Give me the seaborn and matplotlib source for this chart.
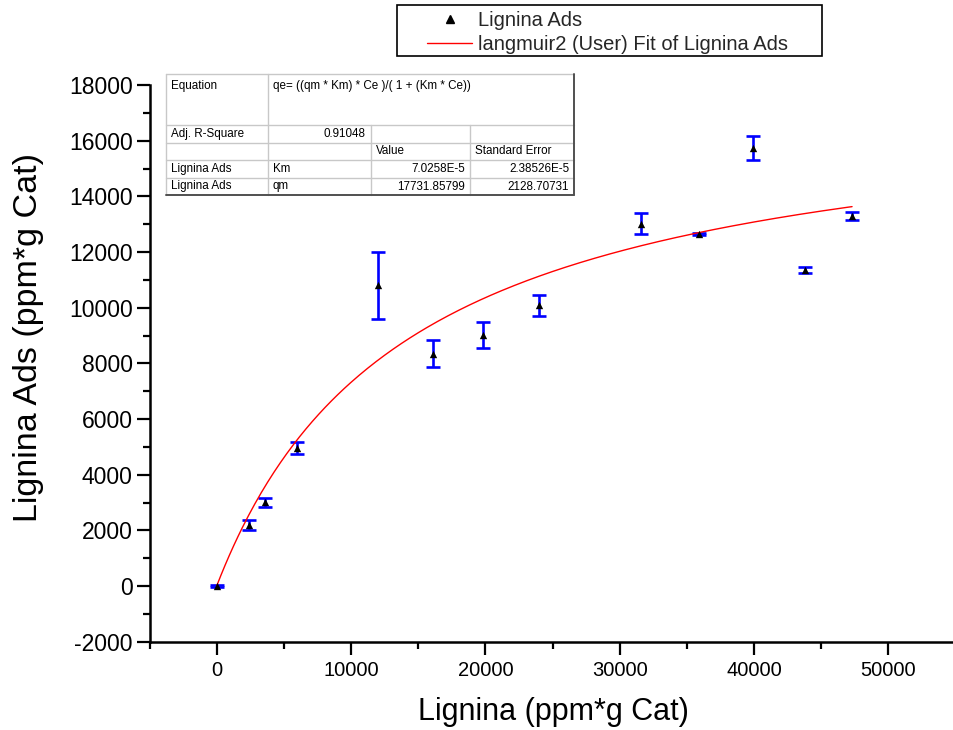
import numpy as np
import pandas as pd
import matplotlib
matplotlib.use("Agg")
import matplotlib.pyplot as plt
from matplotlib.lines import Line2D
from matplotlib.patches import Rectangle
from matplotlib.ticker import MultipleLocator
import seaborn as sns

# Adsorption data: lignina in solution vs. lignina adsorbed (ppm*g Cat)
ce = [0, 2400, 3600, 6000, 12000, 16100, 19800, 24000, 31600, 35900, 39900, 43800, 47300]
qe = [0, 2200, 3010, 4950, 10800, 8350, 9010, 10080, 13020, 12650, 15740, 11360, 13290]
qe_err = [50, 190, 160, 220, 1200, 480, 466, 382, 388, 50, 441, 107, 150]

# Langmuir fit parameters reported by the fit
qm = 17731.85799
km = 7.0258E-5
adj_r2 = "0.91048"

x_ticks = [0, 10000, 20000, 30000, 40000, 50000]
y_ticks = [-2000, 0, 2000, 4000, 6000, 8000, 10000, 12000, 14000, 16000, 18000]

table_rows = [
    ["Adj. R-Square", adj_r2, "", ""],
    ["", "", "Value", "Standard Error"],
    ["Lignina Ads", "Km", "7.0258E-5", "2.38526E-5"],
    ["Lignina Ads", "qm", "17731.85799", "2128.70731"],
]
equation = "qe= ((qm * Km) * Ce )/( 1 + (Km * Ce))"

sns.set_theme(style="ticks")
plt.rcParams["font.family"] = ["Liberation Sans", "DejaVu Sans"]
plt.rcParams["axes.unicode_minus"] = False

W, H = 954, 730
fig = plt.figure(figsize=(W / 100, H / 100), dpi=100)
ax = fig.add_axes([149.5 / W, 1 - 641.7 / H, 806 / W, 556.7 / H])

df = pd.DataFrame({"Ce": ce, "qe": qe, "err": qe_err})

# Fitted Langmuir curve evaluated with the reported parameters
ce_fit = np.linspace(0, max(ce), 300)
fit = pd.DataFrame({"Ce": ce_fit, "qe": qm * km * ce_fit / (1 + km * ce_fit)})

ax.errorbar(df["Ce"], df["qe"], yerr=df["err"], fmt="none", ecolor="#0000ff",
            elinewidth=1.9, capsize=5.2, capthick=1.9, zorder=2)
sns.lineplot(data=fit, x="Ce", y="qe", ax=ax, color="#ff0000", linewidth=1.0,
             zorder=3, legend=False)
sns.scatterplot(data=df, x="Ce", y="qe", ax=ax, marker="^", color="black", s=28,
                edgecolor="black", linewidth=0, zorder=4, legend=False)

ax.set_xlim(-5000, 55000)
ax.set_ylim(-2000, 18000)
ax.set_xticks(x_ticks)
ax.set_yticks(y_ticks)
ax.xaxis.set_minor_locator(MultipleLocator(5000))
ax.yaxis.set_minor_locator(MultipleLocator(1000))

sns.despine(ax=ax)
for s in ("left", "bottom"):
    ax.spines[s].set_linewidth(1.8)
    ax.spines[s].set_color("black")

ax.tick_params(which="major", direction="out", length=9.2, width=1.6, color="black")
ax.tick_params(which="minor", direction="out", length=5.0, width=1.6, color="black")
ax.tick_params(axis="y", labelsize=16.5, pad=3, labelcolor="black")
ax.tick_params(axis="x", labelsize=14.5, pad=5, labelcolor="black")

ax.set_xlabel("Lignina (ppm*g Cat)", fontsize=22, color="black")
ax.set_ylabel("Lignina Ads (ppm*g Cat)", fontsize=24.5, color="black")
ax.xaxis.set_label_coords((553 - 149.5) / 806, (641.7 - 712) / 556.7)
ax.xaxis.label.set_va("center")
ax.yaxis.set_label_coords((28 - 149.5) / 806, (641.7 - 337) / 556.7)
ax.yaxis.label.set_va("center")


def fx(px):
    return px / W


def fy(py):
    return 1 - py / H


# Legend above the plot, inside its own box
fig.add_artist(Rectangle((fx(397), fy(56)), fx(822) - fx(397), fy(5) - fy(56),
                         transform=fig.transFigure, facecolor="white",
                         edgecolor="black", linewidth=1.2, zorder=4))
handles = [
    Line2D([], [], marker="^", linestyle="none", color="black", markersize=5.5),
    Line2D([], [], color="#ff0000", linewidth=1.0),
]
labels = ["Lignina Ads", "langmuir2 (User) Fit of Lignina Ads"]
leg = fig.legend(handles, labels, loc="upper left",
                 bbox_to_anchor=(fx(427), fy(11)), fontsize=14.5,
                 frameon=False, handlelength=2.25, handletextpad=0.3,
                 borderpad=0, labelspacing=0.25, borderaxespad=0)
leg.set_zorder(5)

# Fit-results table drawn in figure pixel coordinates
cols = [166, 268, 371, 470, 574]
rows = [74, 125, 143, 160, 178, 195]

grid_kw = dict(color="#c8c8c8", linewidth=1.0, transform=fig.transFigure, zorder=5)
fig.add_artist(Rectangle((fx(cols[0]), fy(rows[-1])), fx(cols[-1]) - fx(cols[0]),
                         fy(rows[0]) - fy(rows[-1]), transform=fig.transFigure,
                         facecolor="white", edgecolor="none", zorder=4))
# horizontal rules
for r in rows[1:-1]:
    fig.add_artist(Line2D([fx(cols[0]), fx(cols[-1])], [fy(r), fy(r)], **grid_kw))
fig.add_artist(Line2D([fx(cols[0]), fx(cols[-1])], [fy(rows[0]), fy(rows[0])], **grid_kw))
# vertical rules
fig.add_artist(Line2D([fx(cols[0]), fx(cols[0])], [fy(rows[0]), fy(rows[-1])], **grid_kw))
fig.add_artist(Line2D([fx(cols[1]), fx(cols[1])], [fy(rows[0]), fy(rows[-1])], **grid_kw))
for c in cols[2:4]:
    fig.add_artist(Line2D([fx(c), fx(c)], [fy(rows[1]), fy(rows[-1])], **grid_kw))
# darker right and bottom edges
dark_kw = dict(color="#505050", linewidth=1.4, transform=fig.transFigure, zorder=6)
fig.add_artist(Line2D([fx(cols[-1]), fx(cols[-1])], [fy(rows[0]), fy(rows[-1])], **dark_kw))
fig.add_artist(Line2D([fx(cols[0]), fx(cols[-1])], [fy(rows[-1]), fy(rows[-1])], **dark_kw))

txt_kw = dict(fontsize=8.4, color="black", transform=fig.transFigure, zorder=7)
fig.text(fx(cols[0] + 5), fy(rows[0] + 6), "Equation", va="top", ha="left", **txt_kw)
fig.text(fx(cols[1] + 5), fy(rows[0] + 6), equation, va="top", ha="left", **txt_kw)
for i, row in enumerate(table_rows):
    yc = fy((rows[i + 1] + rows[i + 2]) / 2)
    for j, val in enumerate(row):
        if not val:
            continue
        # numbers are right-aligned, names and headers left-aligned
        is_number = val[0].isdigit()
        if is_number:
            fig.text(fx(cols[j + 1] - 5), yc, val, va="center", ha="right", **txt_kw)
        else:
            fig.text(fx(cols[j] + 5), yc, val, va="center", ha="left", **txt_kw)

fig.savefig("out.png", dpi=100)
